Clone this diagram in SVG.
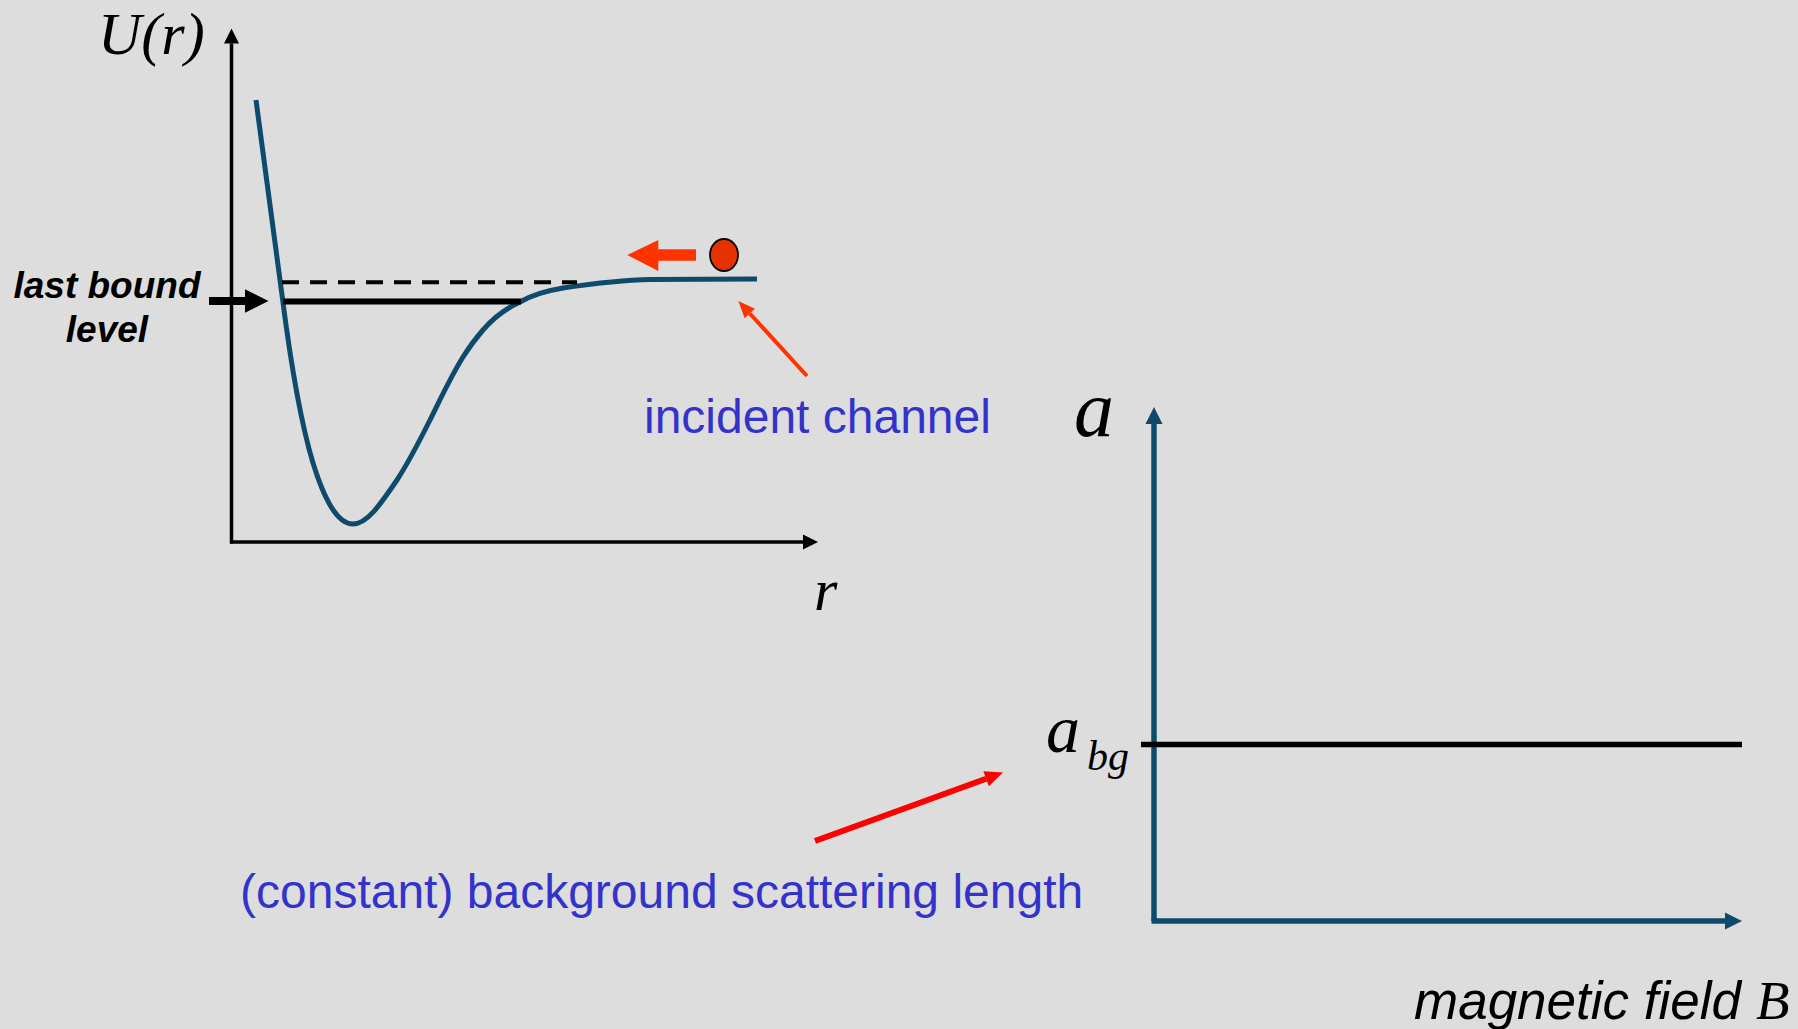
<svg xmlns="http://www.w3.org/2000/svg" width="1798" height="1029" viewBox="0 0 1798 1029">
<style>
.math{font-family:"Liberation Serif","Times New Roman",serif;font-style:italic;fill:#000}
.sans{font-family:"Liberation Sans",Arial,sans-serif}
.blue{fill:#3333cc;font-size:48px}
.axisK{stroke:#000;stroke-width:3.5;fill:none}
.axisB{stroke:#0e4a6c;stroke-width:5.5;fill:none}
.curve{stroke:#0e4a6c;stroke-width:5;fill:none;stroke-linejoin:round}
</style>
<defs>
<marker id="hK" markerUnits="userSpaceOnUse" markerWidth="15" markerHeight="15" refX="0" refY="7.5" orient="auto" overflow="visible"><path d="M0,0 L15,7.5 L0,15 Z" fill="#000"/></marker>
<marker id="hB" markerUnits="userSpaceOnUse" markerWidth="17" markerHeight="17" refX="0" refY="8.5" orient="auto" overflow="visible"><path d="M0,0 L17,8.5 L0,17 Z" fill="#0e4a6c"/></marker>
<marker id="hO" markerUnits="userSpaceOnUse" markerWidth="17" markerHeight="14" refX="0" refY="7" orient="auto" overflow="visible"><path d="M0,0 L17,7 L0,14 Z" fill="#ff3300"/></marker>
<marker id="hR" markerUnits="userSpaceOnUse" markerWidth="18" markerHeight="16" refX="0" refY="8" orient="auto" overflow="visible"><path d="M0,0 L18,8 L0,16 Z" fill="#ff0000"/></marker>
</defs>
<rect x="0" y="0" width="1798" height="1029" fill="#dddddd"/>

<g id="potential-plot">
  <line class="axisK" x1="231.5" y1="543.5" x2="231.5" y2="43.5" marker-end="url(#hK)"/>
  <line class="axisK" x1="230" y1="542" x2="803" y2="542" marker-end="url(#hK)"/>
  <text class="math" x="98" y="54" font-size="60">U(r)</text>
  <text class="math" x="814" y="610" font-size="60">r</text>
  <path class="curve" d="M256,100 L282,295 C289,350 300,420 313,463 C322,492 335,524 353,524 C367,524 380,505 397,480 C410,460 420,440 430,420 C440,400 450,378 463,357 C470,346 476,338 483,330 C495,316 507,308 520,302 C530,296 545,291 563,288 C590,284 620,280 650,279.5 L757,279"/>
  <line x1="282" y1="282.3" x2="577" y2="282.3" stroke="#000" stroke-width="4" stroke-dasharray="17,11"/>
  <line x1="283" y1="301.5" x2="521" y2="301.5" stroke="#000" stroke-width="6"/>
</g>

<g id="last-bound-level">
  <text class="sans" x="107" y="298" font-size="37" font-weight="bold" font-style="italic" text-anchor="middle">last bound</text>
  <text class="sans" x="107" y="341.5" font-size="37" font-weight="bold" font-style="italic" text-anchor="middle">level</text>
  <polygon points="209,297 245,297 245,289.3 268.5,301 245,312.7 245,305 209,305" fill="#000"/>
</g>

<g id="incident-particle">
  <polygon points="696,249.3 658.3,249.3 658.3,240 627.3,255 658.3,271 658.3,260.7 696,260.7" fill="#ff3300"/>
  <ellipse cx="724" cy="255" rx="14" ry="16" fill="#e63200" stroke="#000" stroke-width="1.8"/>
</g>

<g id="incident-channel">
  <text class="sans blue" x="644" y="432.5">incident channel</text>
</g>

<g id="scattering-plot">
  <line class="axisB" x1="1154" y1="921" x2="1154" y2="424" marker-end="url(#hB)"/>
  <line class="axisB" x1="1151.5" y1="921" x2="1725" y2="921" marker-end="url(#hB)"/>
  <text class="math" x="1074" y="436" font-size="80">a</text>
  <line x1="1141" y1="744.5" x2="1742" y2="744.5" stroke="#000" stroke-width="5.5"/>
  <text class="math" x="1046" y="751.5" font-size="68">a</text>
  <text class="math" x="1087" y="770" font-size="42">bg</text>
  <text class="sans" x="1414" y="1019" font-size="53" font-style="italic">magnetic field</text>
  <text class="math" x="1756" y="1019" font-size="55">B</text>
</g>

<g id="background-label">
  <text class="sans blue" x="240" y="908">(constant) background scattering length</text>
</g>

<g id="connectors">
  <line x1="807" y1="376" x2="749.8" y2="313.5" stroke="#ff3300" stroke-width="4" marker-end="url(#hO)"/>
  <line x1="815" y1="841" x2="986.1" y2="778.7" stroke="#ff0000" stroke-width="6" marker-end="url(#hR)"/>
</g>
</svg>
